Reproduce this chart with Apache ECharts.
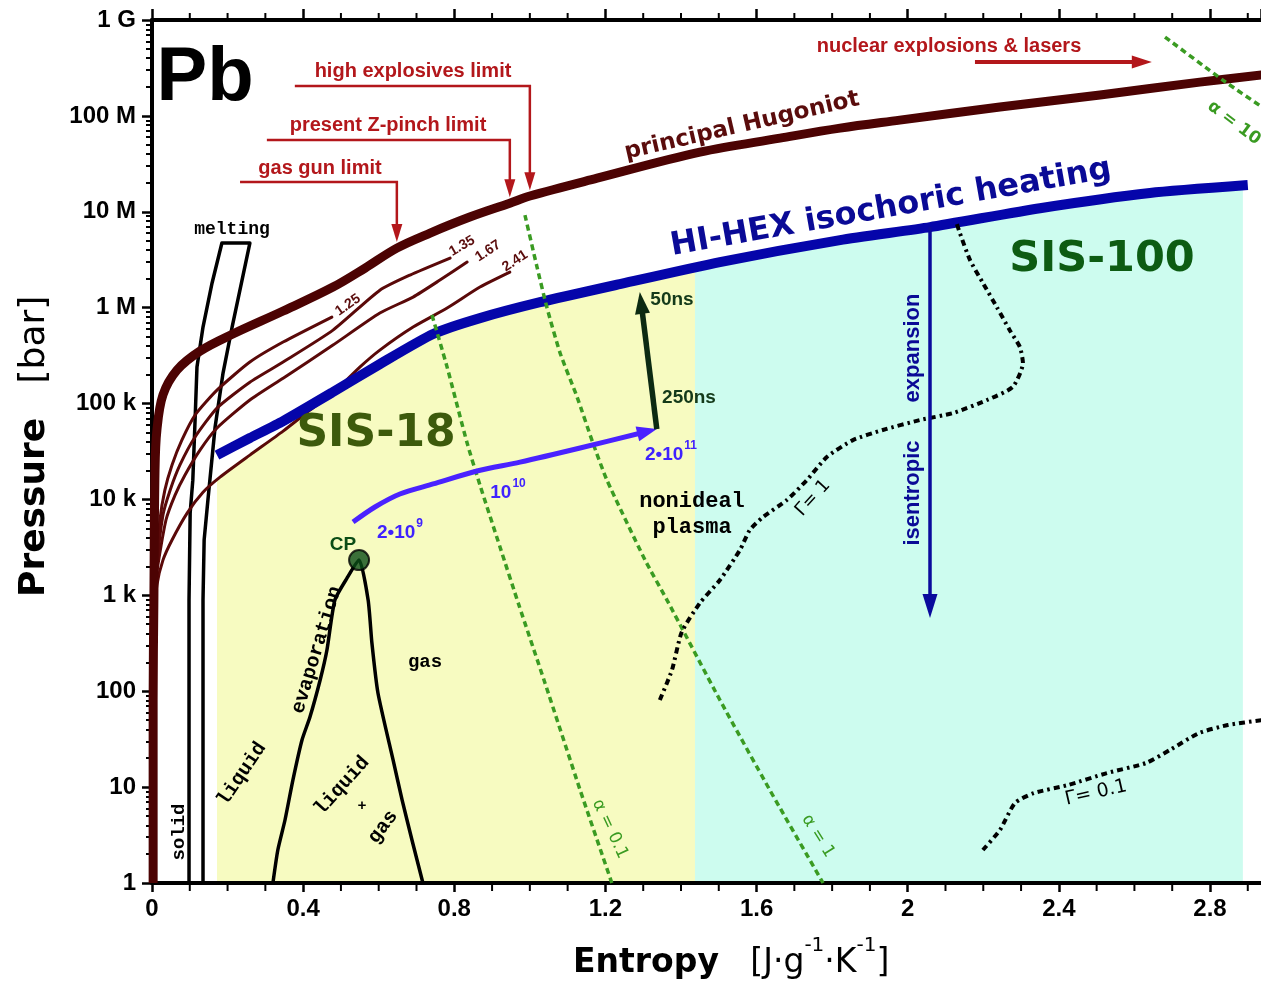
<!DOCTYPE html>
<html>
<head>
<meta charset="utf-8">
<title>Pb phase diagram</title>
<script src="https://cdn.jsdelivr.net/npm/echarts@6.0.0/dist/echarts.min.js"></script>
<style>
html,body{margin:0;padding:0;background:#ffffff;}
#chart{width:1261px;height:984px;}
</style>
</head>
<body>
<div id="chart"></div>
<script>
// ---------- tick labels ----------
const xTickLabels = ['0', '0.4', '0.8', '1.2', '1.6', '2', '2.4', '2.8'];
const yTickLabels = ['1', '10', '100', '1 k', '10 k', '100 k', '1 M', '10 M', '100 M', '1 G'];
const xMinorTicks = [0.1,0.2,0.3,0.5,0.6,0.7,0.9,1.0,1.1,1.3,1.4,1.5,1.7,1.8,1.9,2.1,2.2,2.3,2.5,2.6,2.7,2.9];

// ---------- curves: [entropy J/(g K), pressure bar] ----------
const hugoniot = [[0.003,1],[0.003,81],[0.005,890],[0.008,20300],[0.013,53000],[0.029,123000],[0.066,223000],[0.127,352000],[0.214,531000],[0.347,922000],[0.479,1.64e6],[0.564,2.59e6],[0.648,4.18e6],[0.736,6.0e6],[0.841,8.81e6],[0.947,1.23e7],[1.000,1.46e7],[1.178,2.24e7],[1.450,4.19e7],[1.662,5.86e7],[1.821,7.46e7],[1.979,9.04e7],[2.244,1.24e8],[2.509,1.65e8],[2.773,2.25e8],[2.94,2.68e8]];
const porous125 = [[0.005,600],[0.011,1840],[0.021,6100],[0.034,12500],[0.053,22900],[0.079,41600],[0.114,75900],[0.172,138000],[0.259,271000],[0.347,438000],[0.476,798000]];
const porous135 = [[0.005,600],[0.013,2070],[0.029,6870],[0.048,12500],[0.074,22900],[0.114,44800],[0.172,89700],[0.259,167000],[0.347,271000],[0.479,583000],[0.603,1.52e6],[0.683,2.19e6],[0.789,3.29e6]];
const porous167 = [[0.005,600],[0.013,1750],[0.037,6100],[0.061,11100],[0.087,17900],[0.127,32700],[0.172,55600],[0.259,109000],[0.347,184000],[0.479,407000],[0.603,879000],[0.691,1.29e6],[0.762,1.94e6],[0.834,2.99e6]];
const porous241 = [[0.005,500],[0.013,1280],[0.029,2330],[0.053,3780],[0.093,7210],[0.135,11900],[0.180,17100],[0.259,29000],[0.347,51600],[0.418,85500],[0.479,128500],[0.550,240000],[0.603,361000],[0.691,628000],[0.781,991000],[0.868,1.64e6],[0.947,2.35e6]];
const hihexHeating = [[0.172,29000],[0.259,43700],[0.347,65600],[0.479,131800],[0.603,258000],[0.744,531000],[0.868,778000],[1.027,1.14e6],[1.238,1.76e6],[1.503,2.99e6],[1.821,5.07e6],[2.059,6.92e6],[2.350,1.09e7],[2.641,1.57e7],[2.900,1.90e7]];
const sis18Top = [[0.172,16300],[0.180,17100],[0.259,29000],[0.347,51600],[0.418,85500],[0.479,131800],[0.603,258000],[0.744,531000],[0.868,778000],[1.027,1.14e6],[1.238,1.76e6],[1.437,2.62e6]];
const sis100Top = [[1.437,2.62e6],[1.503,2.99e6],[1.821,5.07e6],[2.059,6.92e6],[2.350,1.09e7],[2.641,1.57e7],[2.887,1.88e7]];
const meltingBand = [[0.098,1],[0.098,893],[0.101,7210],[0.108,15900],[0.114,67300],[0.119,240000],[0.135,628000],[0.159,1.81e6],[0.185,4.72e6],[0.259,4.72e6],[0.212,628000],[0.188,208000],[0.167,56900],[0.148,9860],[0.138,3780],[0.135,893],[0.135,1]];
const evaporation = [[0.320,1],[0.333,2.21],[0.352,4.54],[0.373,11.9],[0.397,31],[0.418,53.8],[0.445,131],[0.463,269],[0.484,893],[0.516,1510],[0.548,2330],[0.572,893],[0.582,318],[0.598,95.8],[0.638,19.2],[0.662,7.33],[0.688,2.81],[0.717,1]];
const criticalPoint = [[0.548,2330]];
const alpha01 = [[0.741,837000],[0.781,240000],[0.834,38700],[0.868,14100],[0.921,3190],[0.971,792],[1.040,122],[1.133,9.33],[1.217,1]];
const alpha1 = [[0.987,9.25e6],[1.019,2.65e6],[1.045,1.01e6],[1.080,337000],[1.125,117000],[1.167,38700],[1.204,15900],[1.305,2330],[1.363,893],[1.503,81],[1.635,9.33],[1.776,1]];
const alpha10 = [[2.681,6.64e8],[2.834,2.36e8],[2.94,1.22e8]];
const gamma1 = [[1.344,81],[1.376,166],[1.402,414],[1.450,831],[1.503,1445],[1.556,2970],[1.582,4800],[1.617,6550],[1.680,9860],[1.733,15900],[1.786,27700],[1.855,41600],[1.934,53000],[2.032,67300],[2.120,79600],[2.210,109000],[2.278,149000],[2.305,264000],[2.297,388000],[2.270,583000],[2.236,1.01e6],[2.199,1.81e6],[2.165,3.13e6],[2.138,6.0e6],[2.130,7.5e6]];
const gamma01 = [[2.199,2.21],[2.244,3.57],[2.284,6.83],[2.334,8.67],[2.424,10.5],[2.527,14.0],[2.630,17.8],[2.694,24.4],[2.771,36.6],[2.847,44.4],[2.94,50.1]];
// arrows
const ionBeam = [[0.532,5810],[0.590,8340],[0.656,11400],[0.744,14500],[0.860,19800],[0.974,24500],[1.133,34400],[1.336,54200]];
const pulseArrow = [[1.336,54200],[1.291,1.46e6]];
const isentropeArrow = [[2.059,6.92e6],[2.059,580]];
const gasGunCallout = [[0.233,2.04e7],[0.648,2.04e7],[0.648,4.83e6]];
const zPinchCallout = [[0.304,5.59e7],[0.947,5.59e7],[0.947,1.42e7]];
const explosivesCallout = [[0.378,2.05e8],[1.000,2.05e8],[1.000,1.68e7]];
const nuclearArrow = [[2.178,3.64e8],[2.646,3.64e8]];

// ---------- styling helpers ----------
const SANS = '"Liberation Sans", Arial, sans-serif';
const ROUND = '"DejaVu Sans", sans-serif';
const MONO = '"Liberation Mono", "Courier New", monospace';
const RED = '#b3171b';
const deg = d => d * Math.PI / 180;

function curve(name, data, color, width, extra) {
  const s = {
    type: 'line', name, data, showSymbol: false, symbol: 'none', silent: true,
    smooth: 0.2, z: 3, animation: false,
    lineStyle: { color, width, cap: 'round', join: 'round' }
  };
  if (extra) {
    if (extra.dash) { s.lineStyle.type = extra.dash; s.lineStyle.cap = 'butt'; }
    if (extra.smooth !== undefined) s.smooth = extra.smooth;
    if (extra.z !== undefined) s.z = extra.z;
    if (extra.cap) s.lineStyle.cap = extra.cap;
  }
  return s;
}

function region(name, top, color) {
  return {
    type: 'custom', name, coordinateSystem: 'cartesian2d', silent: true, z: 0,
    data: [[1, 10]], animation: false,
    renderItem: function (params, api) {
      const x0 = top[0][0], x1 = top[top.length - 1][0];
      const pts = [api.coord([x0, 1])].concat(top.map(d => api.coord(d))).concat([api.coord([x1, 1])]);
      return { type: 'polygon', shape: { points: pts }, style: { fill: color } };
    }
  };
}

function minorTickSeries(values) {
  return {
    type: 'custom', name: 'x minor ticks', coordinateSystem: 'cartesian2d', silent: true, z: 1,
    clip: false, data: [[1, 10]], animation: false,
    renderItem: function (params, api) {
      const children = [];
      values.forEach(v => {
        const b = api.coord([v, 1]);
        const t = api.coord([v, 1e9]);
        children.push({ type: 'line', shape: { x1: b[0], y1: b[1], x2: b[0], y2: b[1] + 8 }, style: { stroke: '#000', lineWidth: 2 } });
        children.push({ type: 'line', shape: { x1: t[0], y1: t[1], x2: t[0], y2: t[1] - 7 }, style: { stroke: '#000', lineWidth: 2 } });
      });
      return { type: 'group', children };
    }
  };
}

function arrow(name, pts, color, width, headLen, headW, z, smooth) {
  return {
    type: 'custom', name, coordinateSystem: 'cartesian2d', silent: true, z: z || 5,
    clip: false, data: [[1, 10]], animation: false,
    renderItem: function (params, api) {
      const p = pts.map(d => api.coord(d));
      const n = p.length;
      const a = p[n - 2], b = p[n - 1];
      const ang = Math.atan2(b[1] - a[1], b[0] - a[0]);
      const c = Math.cos(ang), s = Math.sin(ang);
      const base = [b[0] - headLen * c, b[1] - headLen * s];
      const l = [base[0] - headW / 2 * s, base[1] + headW / 2 * c];
      const r = [base[0] + headW / 2 * s, base[1] - headW / 2 * c];
      const line = p.slice(0, n - 1).concat([[b[0] - headLen * 0.5 * c, b[1] - headLen * 0.5 * s]]);
      return { type: 'group', children: [
        { type: 'polyline', shape: { points: line, smooth: smooth || 0 },
          style: { stroke: color, lineWidth: width, fill: null, lineJoin: 'miter', lineCap: 'butt' } },
        { type: 'polygon', shape: { points: [b, l, r] }, style: { fill: color } }
      ]};
    }
  };
}

function txt(text, x, y, o) {
  o = o || {};
  const style = {
    text, fill: o.color || '#000', fontSize: o.size || 20,
    fontFamily: o.family || SANS, fontWeight: o.weight || 'normal',
    align: o.align || 'center', verticalAlign: 'middle'
  };
  if (o.rich) style.rich = o.rich;
  return { type: 'text', x, y, rotation: deg(o.rot || 0), z: 100, silent: true, style };
}

function supRich(color, size, family, weight) {
  return {
    b: { fontSize: size, fontFamily: family, fontWeight: weight, fill: color, lineHeight: size * 1.3, verticalAlign: 'bottom' },
    s: { fontSize: Math.round(size * 0.62), fontFamily: family, fontWeight: weight, fill: color, lineHeight: size * 1.3, verticalAlign: 'top', padding: [0, 0, 0, 1] }
  };
}

const brown = '#4c0303';
const thinBrown = '#5a0909';
const navy = '#0505aa';
const green = '#3a9b22';

const series = [
  region('SIS-18', sis18Top, '#f7fbc1'),
  region('SIS-100', sis100Top, '#cdfcef'),
  minorTickSeries(xMinorTicks),
  curve('melting', meltingBand, '#000', 3.5, { smooth: 0, z: 3 }),
  curve('evaporation', evaporation, '#000', 3.5, { smooth: 0.2, z: 3 }),
  curve('1.25', porous125, thinBrown, 3, { z: 4 }),
  curve('1.35', porous135, thinBrown, 3, { z: 4 }),
  curve('1.67', porous167, thinBrown, 3, { z: 4 }),
  curve('2.41', porous241, thinBrown, 3, { z: 4 }),
  curve('HI-HEX isochoric heating', hihexHeating, navy, 10, { z: 5, cap: 'butt' }),
  curve('principal Hugoniot', hugoniot, brown, 9, { z: 6, cap: 'butt', smooth: 0.35 }),
  curve('alpha=0.1', alpha01, green, 3.5, { dash: [6, 4], z: 7 }),
  curve('alpha=1', alpha1, green, 3.5, { dash: [6, 4], z: 7 }),
  curve('alpha=10', alpha10, green, 3.5, { dash: [6, 4], z: 7 }),
  curve('Gamma=1', gamma1, '#000', 4, { dash: [6, 4, 2.5, 4], z: 7 }),
  curve('Gamma=0.1', gamma01, '#000', 4, { dash: [6, 4, 2.5, 4], z: 7 }),
  arrow('ion beam', ionBeam, '#4a22ff', 5, 20, 15, 8, 0.3),
  arrow('pulse', pulseArrow, '#0c2a12', 5.5, 22, 15, 8),
  arrow('isentropic expansion', isentropeArrow, '#0a0a9c', 3.5, 24, 15, 8),
  arrow('gas gun limit', gasGunCallout, RED, 2.5, 18, 11, 9),
  arrow('Z-pinch limit', zPinchCallout, RED, 2.5, 18, 11, 9),
  arrow('high explosives limit', explosivesCallout, RED, 2.5, 18, 11, 9),
  arrow('nuclear explosions & lasers', nuclearArrow, RED, 4, 20, 13, 9),
  {
    type: 'scatter', name: 'CP', data: criticalPoint, symbol: 'circle', symbolSize: 20, z: 9,
    silent: true, animation: false,
    itemStyle: { color: '#0b4d16', borderColor: '#000', borderWidth: 2 }
  }
];

const labelGraphics = [
  txt('Pb', 205, 79, { size: 76, weight: 900, family: SANS }),
  txt('high explosives limit', 413, 71, { size: 20, weight: 'bold', color: RED }),
  txt('present Z-pinch limit', 388, 125, { size: 20, weight: 'bold', color: RED }),
  txt('gas gun limit', 320, 168, { size: 20, weight: 'bold', color: RED }),
  txt('nuclear explosions & lasers', 949, 46, { size: 20, weight: 'bold', color: RED }),
  txt('principal Hugoniot', 742, 126, { size: 23, weight: 'bold', color: '#5a0c0c', family: ROUND, rot: 13 }),
  txt('HI-HEX isochoric heating', 891, 208, { size: 32, weight: 'bold', color: '#0a0a96', family: ROUND, rot: 10 }),
  txt('SIS-100', 1102, 260, { size: 43, weight: 'bold', color: '#0d5c13', family: ROUND }),
  txt('SIS-18', 376, 435, { size: 44, weight: 'bold', color: '#3d5a0c', family: ROUND }),
  txt('melting', 232, 229, { size: 18, weight: 'bold', family: MONO }),
  txt('solid', 179, 832, { size: 19, family: MONO, weight: 'bold', rot: 90 }),
  txt('liquid', 242, 774, { size: 20, family: MONO, weight: 'bold', rot: 56 }),
  txt('evaporation', 317, 650, { size: 20, family: MONO, weight: 'bold', rot: 73 }),
  txt('liquid', 342, 786, { size: 20, family: MONO, weight: 'bold', rot: 48 }),
  txt('+', 362, 806, { size: 15, family: MONO, weight: 'bold' }),
  txt('gas', 383, 827, { size: 20, family: MONO, weight: 'bold', rot: 53 }),
  txt('gas', 425, 662, { size: 19, family: MONO, weight: 'bold' }),
  txt('nonideal', 692, 501, { size: 22, family: MONO, weight: 'bold' }),
  txt('plasma', 692, 527, { size: 22, family: MONO, weight: 'bold' }),
  txt('CP', 343, 545, { size: 19, weight: 'bold', color: '#0b4d16' }),
  txt('1.25', 348, 305, { size: 14, weight: 'bold', color: '#5a0c0c', rot: 35 }),
  txt('1.35', 462, 246, { size: 14, weight: 'bold', color: '#5a0c0c', rot: 30 }),
  txt('1.67', 488, 251, { size: 14, weight: 'bold', color: '#5a0c0c', rot: 33 }),
  txt('2.41', 515, 261, { size: 14, weight: 'bold', color: '#5a0c0c', rot: 33 }),
  txt('50ns', 672, 300, { size: 19, weight: 'bold', color: '#143a1a' }),
  txt('250ns', 689, 398, { size: 19, weight: 'bold', color: '#143a1a' }),
  txt('{b|2•10}{s|9}', 400, 530, { rich: supRich('#3f22ff', 19, SANS, 'bold') }),
  txt('{b|10}{s|10}', 508, 490, { rich: supRich('#3f22ff', 19, SANS, 'bold') }),
  txt('{b|2•10}{s|11}', 671, 452, { rich: supRich('#3f22ff', 19, SANS, 'bold') }),
  txt('isentropic', 913, 493, { size: 22, weight: 'bold', color: '#0a0a96', rot: 90 }),
  txt('expansion', 913, 348, { size: 22, weight: 'bold', color: '#0a0a96', rot: 90 }),
  txt('Γ= 1', 813, 498, { size: 18, family: ROUND, rot: 48 }),
  txt('Γ= 0.1', 1096, 793, { size: 19, family: ROUND, rot: 13 }),
  txt('α = 0.1', 610, 829, { size: 17, family: ROUND, color: green, rot: -65 }),
  txt('α = 1', 818, 836, { size: 17, family: ROUND, color: green, rot: -58 }),
  txt('α = 10', 1234, 123, { size: 17, family: ROUND, color: green, rot: -37, weight: 'bold' }),
  // axis titles
  txt('{b|Pressure}{n|   [bar]}', 35, 597, {
    rot: 90, align: 'left',
    rich: {
      b: { fontSize: 36, fontFamily: ROUND, fontWeight: 'bold', fill: '#000' },
      n: { fontSize: 36, fontFamily: ROUND, fill: '#000' }
    }
  }),
  txt('{b|Entropy}{n|   [J·g}{s|-1}{n|·K}{s|-1}{n|]}', 573, 958, {
    align: 'left',
    rich: {
      b: { fontSize: 33, fontFamily: ROUND, fontWeight: 'bold', fill: '#000', lineHeight: 44, verticalAlign: 'bottom' },
      n: { fontSize: 33, fontFamily: ROUND, fill: '#000', lineHeight: 44, verticalAlign: 'bottom' },
      s: { fontSize: 20, fontFamily: ROUND, fill: '#000', lineHeight: 44, verticalAlign: 'top' }
    }
  })
];

const axisLineStyle = { color: '#000', width: 4 };

const option = {
  animation: false,
  backgroundColor: '#ffffff',
  grid: { left: 152, top: 20, width: 1109, height: 863, containLabel: false },
  xAxis: [
    {
      type: 'value', position: 'bottom', min: 0, max: 2.935, interval: 0.4, z: 1,
      axisLine: { show: true, lineStyle: axisLineStyle },
      axisTick: { show: true, inside: false, length: 9, lineStyle: { color: '#000', width: 2.5 } },
      minorTick: { show: false },
      splitLine: { show: false },
      axisLabel: {
        show: true, margin: 14, color: '#000', fontSize: 24, fontWeight: 'bold', fontFamily: SANS,
        showMaxLabel: false,
        formatter: function (v) {
          const i = Math.round(v / 0.4);
          return (Math.abs(v - i * 0.4) < 1e-6 && i < xTickLabels.length) ? xTickLabels[i] : '';
        }
      }
    },
    {
      type: 'value', position: 'top', min: 0, max: 2.935, interval: 0.4, z: 1,
      axisLine: { show: true, lineStyle: axisLineStyle },
      axisTick: { show: true, inside: false, length: 11, lineStyle: { color: '#000', width: 2.5 } },
      minorTick: { show: false },
      splitLine: { show: false },
      axisLabel: { show: false }
    }
  ],
  yAxis: {
    type: 'log', logBase: 10, min: 1, max: 1e9, z: 1,
    axisLine: { show: true, lineStyle: axisLineStyle },
    axisTick: { show: true, inside: false, length: 10, lineStyle: { color: '#000', width: 2.5 } },
    minorTick: { show: true, splitNumber: 9, length: 6, lineStyle: { color: '#000', width: 2 } },
    splitLine: { show: false },
    axisLabel: {
      show: true, margin: 16, color: '#000', fontSize: 24, fontWeight: 'bold', fontFamily: SANS,
      formatter: function (v) {
        const i = Math.round(Math.log10(v));
        return yTickLabels[i] !== undefined ? yTickLabels[i] : '';
      }
    }
  },
  graphic: labelGraphics,
  series: series
};

const chart = echarts.init(document.getElementById('chart'), null, { renderer: 'canvas' });
chart.setOption(option);
</script>
</body>
</html>
